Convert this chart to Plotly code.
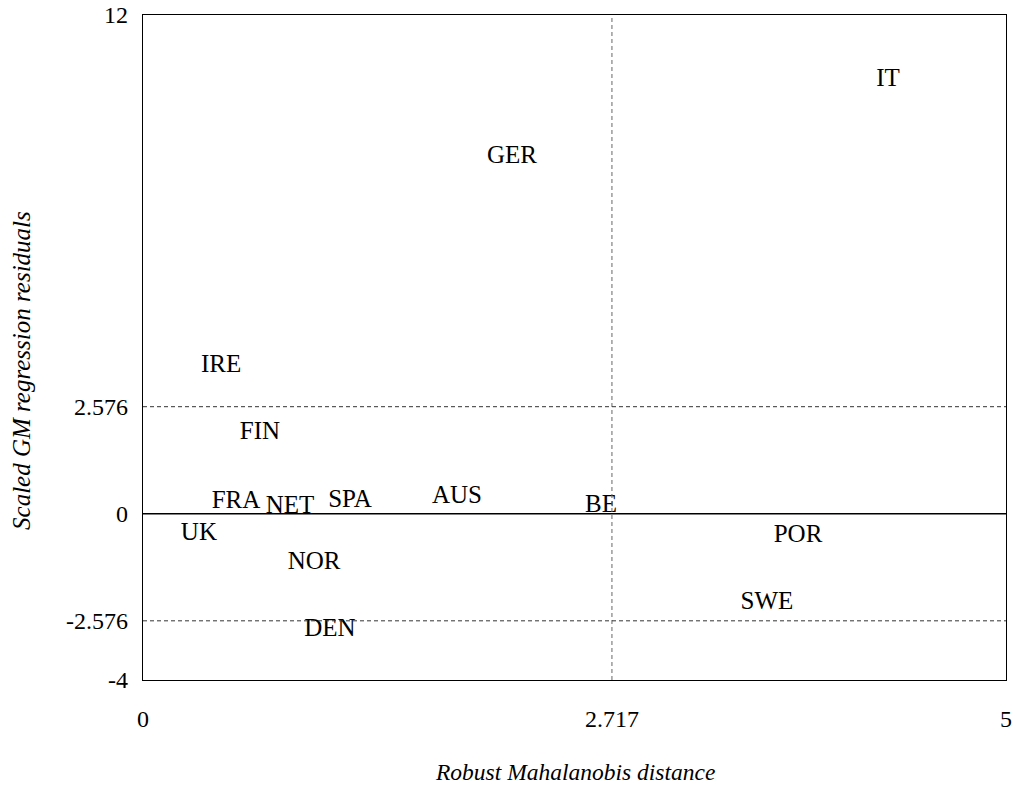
import plotly.graph_objects as go

# Country codes with robust Mahalanobis distance (x) and scaled GM residual (y)
countries = ["IT", "GER", "IRE", "FIN", "FRA", "NET", "SPA", "AUS", "BE",
             "UK", "POR", "NOR", "SWE", "DEN"]
distance = [4.316, 2.138, 0.452, 0.678, 0.539, 0.852, 1.199, 1.819, 2.654,
            0.324, 3.795, 0.991, 3.615, 1.083]
residual = [10.45, 8.60, 3.55, 1.96, 0.28, 0.18, 0.32, 0.42, 0.20,
            -0.47, -0.54, -1.19, -2.15, -2.78]

# Cut-offs
dist_cutoff = 2.717
resid_cutoff = 2.576

x_ticks = [0, dist_cutoff, 5]
x_ticktext = ["0", "2.717", "5"]
y_ticks = [-4, -resid_cutoff, 0, resid_cutoff, 12]
y_ticktext = ["-4", "-2.576", "0", "2.576", "12"]

serif = "Liberation Serif"

fig = go.Figure()
fig.add_trace(go.Scatter(
    x=distance, y=residual, mode="text", text=countries,
    textposition="middle center",
    textfont=dict(family=serif, size=25, color="black"),
    hoverinfo="skip", showlegend=False,
))

dash = "4px,3px"
fig.add_shape(type="line", xref="x", yref="paper", x0=dist_cutoff, x1=dist_cutoff,
              y0=0, y1=1, line=dict(color="#666666", width=1, dash=dash))
for yv in (resid_cutoff, -resid_cutoff):
    fig.add_shape(type="line", xref="paper", yref="y", x0=0, x1=1, y0=yv, y1=yv,
                  line=dict(color="#333333", width=1, dash=dash))
fig.add_shape(type="line", xref="paper", yref="y", x0=0, x1=1, y0=0, y1=0,
              line=dict(color="black", width=1.3))

# Axis titles
fig.add_annotation(text="<i>Robust Mahalanobis distance</i>", xref="paper", yref="paper",
                   x=0.5, y=-0.138, xanchor="center", yanchor="middle", showarrow=False,
                   font=dict(family=serif, size=23.5, color="black"))
fig.add_annotation(text="<i>Scaled GM regression residuals</i>", xref="paper", yref="paper",
                   x=-0.14, y=0.465, xanchor="center", yanchor="middle", showarrow=False,
                   textangle=-90, font=dict(family=serif, size=25, color="black"))

fig.update_layout(
    width=1016, height=787,
    margin=dict(l=143, r=10, t=15, b=107),
    plot_bgcolor="white", paper_bgcolor="white",
    font=dict(family=serif, size=24, color="black"),
    xaxis=dict(
        range=[0, 5], tickvals=x_ticks, ticktext=x_ticktext,
        showgrid=False, zeroline=False, showline=True, mirror=True,
        linecolor="black", linewidth=1.3, ticks="", ticklabelstandoff=17,
        automargin=False,
    ),
    yaxis=dict(
        range=[-4, 12], tickvals=y_ticks, ticktext=y_ticktext,
        showgrid=False, zeroline=False, showline=True, mirror=True,
        linecolor="black", linewidth=1.3, ticks="", ticklabelstandoff=9,
        automargin=False,
    ),
)

fig.write_html("out.html")
